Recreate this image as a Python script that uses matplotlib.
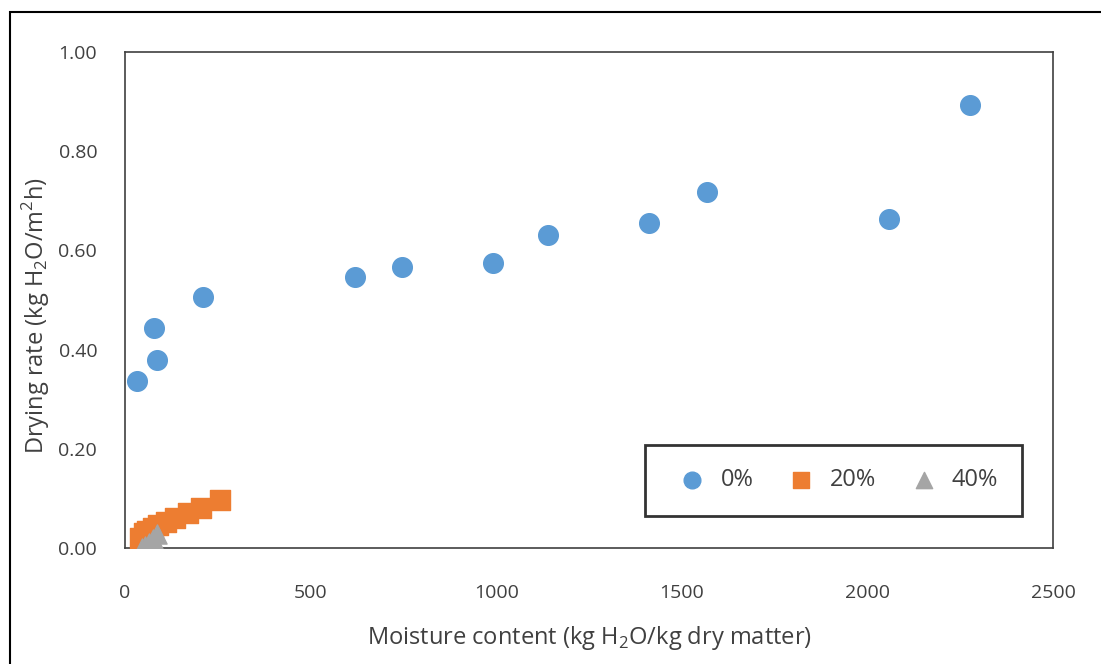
import matplotlib.pyplot as plt
from matplotlib.patches import Rectangle
from matplotlib.ticker import FormatStrFormatter

plt.rcParams['font.family'] = ['Open Sans', 'DejaVu Sans']
plt.rcParams['mathtext.fontset'] = 'custom'
plt.rcParams['mathtext.rm'] = 'Open Sans'

# 0% series
x0 = [32, 78, 86, 210, 620, 746, 991, 1140, 1412, 1568, 2058, 2276]
y0 = [0.337, 0.444, 0.379, 0.506, 0.546, 0.567, 0.575, 0.631, 0.655, 0.718, 0.663, 0.893]
# 20% series
x20 = [40, 50, 60, 75, 90, 110, 135, 170, 205, 255]
y20 = [0.020, 0.030, 0.035, 0.040, 0.047, 0.053, 0.060, 0.070, 0.080, 0.097]
# 40% series
x40 = [45, 55, 65, 75, 85]
y40 = [0.000, 0.005, 0.010, 0.018, 0.028]

txt = '#404040'

fig = plt.figure(figsize=(11.01, 6.64), dpi=100)
ax = fig.add_axes([0.1135, 0.1747, 0.8429, 0.747])

ax.scatter(x0, y0, s=200, marker='o', color='#5B9BD5', label='0%', zorder=3)
ax.scatter(x20, y20, s=190, marker='s', color='#ED7D31', label='20%', zorder=3)
ax.scatter(x40, y40, s=190, marker='^', color='#A5A5A5', label='40%', zorder=4)

ax.set_xlim(0, 2500)
ax.set_ylim(0, 1.0)
ax.set_xticks([0, 500, 1000, 1500, 2000, 2500])
ax.set_yticks([0, 0.2, 0.4, 0.6, 0.8, 1.0])
ax.yaxis.set_major_formatter(FormatStrFormatter('%.2f'))
ax.tick_params(axis='both', length=0, labelsize=14, colors=txt)
ax.tick_params(axis='x', pad=26)
ax.tick_params(axis='y', pad=20)
for sp in ax.spines.values():
    sp.set_color('#404040')
    sp.set_linewidth(1.2)

ax.set_xlabel('Moisture content (kg H$_2$O/kg dry matter)', fontsize=17, color=txt, va='center')
ax.xaxis.set_label_coords(0.5, (548 - 638) / 496)
ax.set_ylabel('Drying rate (kg H$_2$O/m$^2$h)', fontsize=17, color=txt, va='center')
ax.yaxis.set_label_coords((36 - 125) / 928, (548 - 316) / 496)

leg = ax.legend(loc='lower left', bbox_to_anchor=(0.5603, 0.0645, 0.4062, 0.139), mode='expand',
                ncol=3, fontsize=17, frameon=True, fancybox=False, edgecolor='black',
                borderpad=1.0, handletextpad=0.2, markerscale=0.85, borderaxespad=0)
leg.get_frame().set_linewidth(2)
for t in leg.get_texts():
    t.set_color(txt)

fig.patches.append(Rectangle((10 / 1101, -0.1), 1.2, 1 - 12 / 664 + 0.1, transform=fig.transFigure,
                             fill=False, edgecolor='black', linewidth=1.5))

fig.savefig('out.png', dpi=100)
